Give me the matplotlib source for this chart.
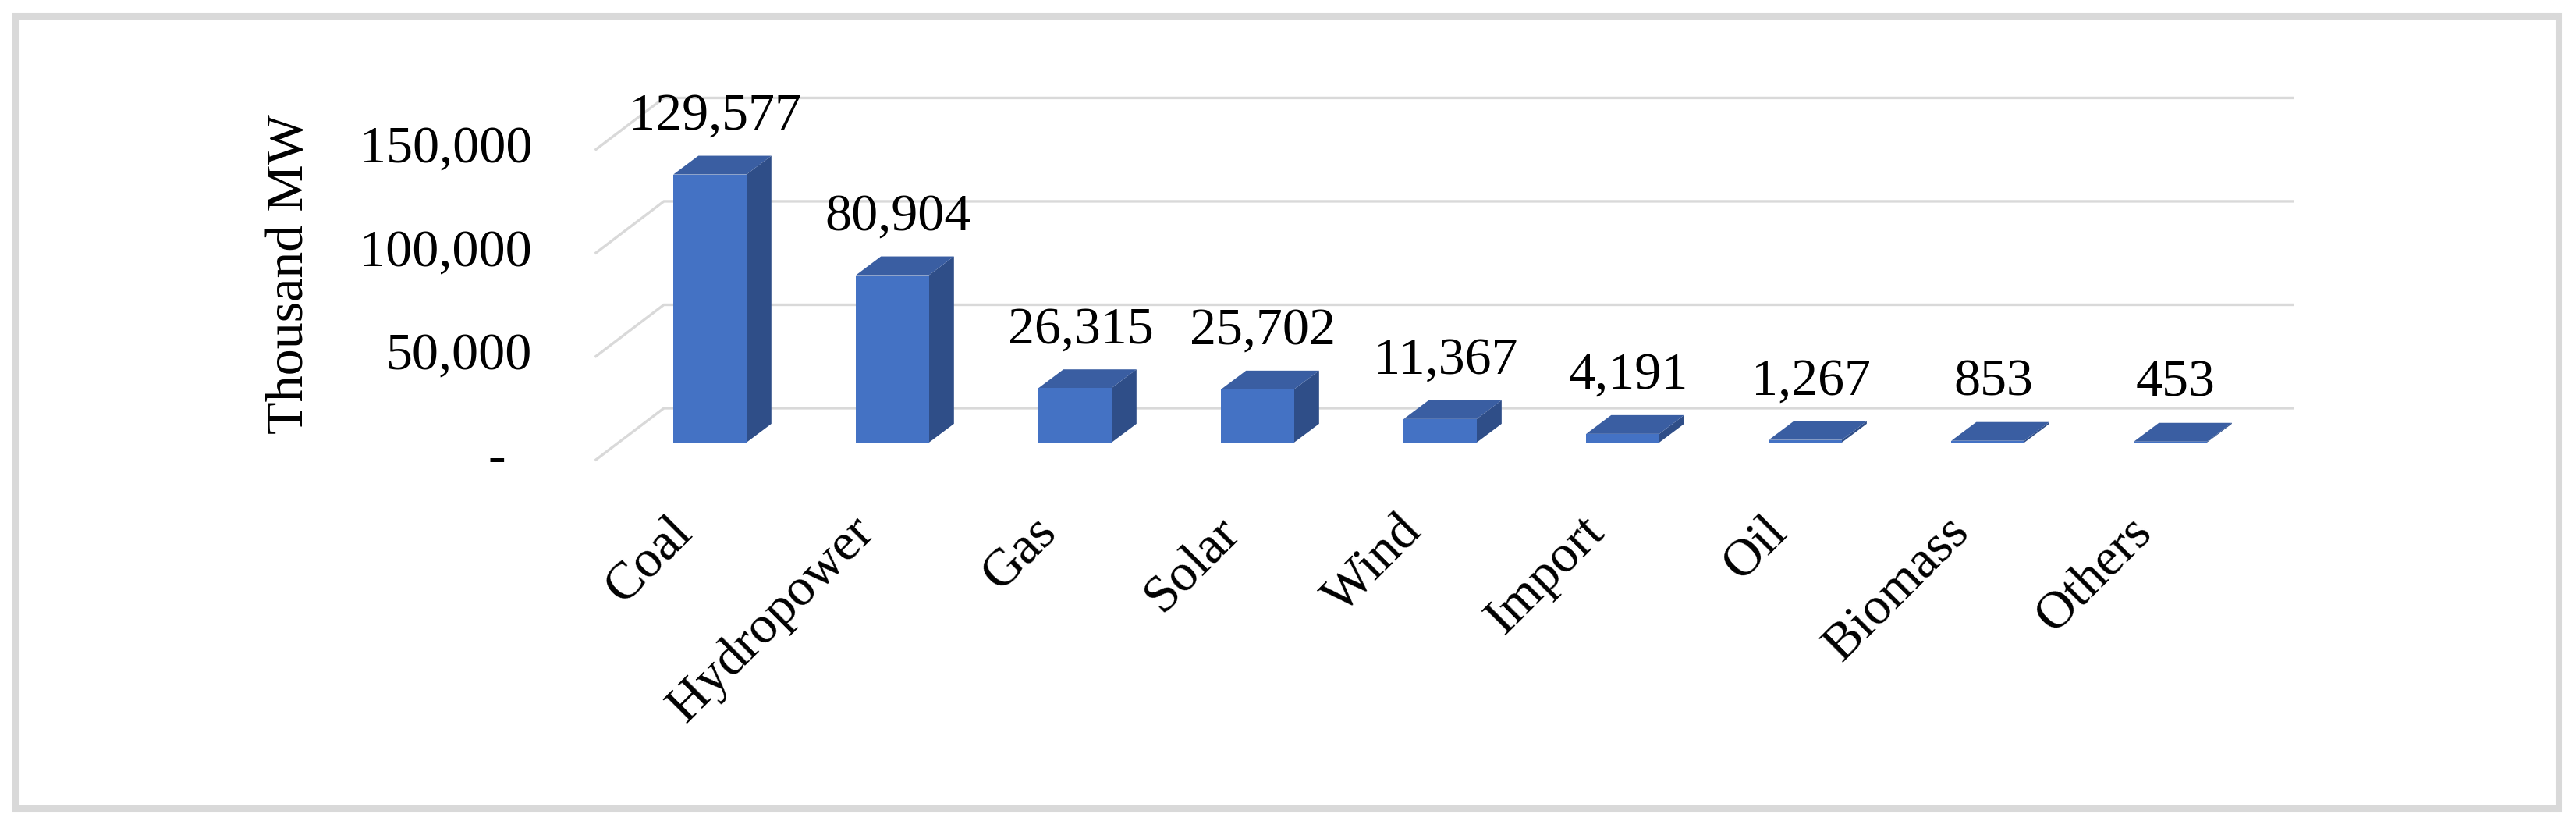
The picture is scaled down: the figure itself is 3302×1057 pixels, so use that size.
import matplotlib.pyplot as plt
from matplotlib.patches import Polygon, Rectangle

# installed capacity by source (thousand MW)
categories = ['Coal', 'Hydropower', 'Gas', 'Solar', 'Wind', 'Import', 'Oil', 'Biomass', 'Others']
capacity = [129577, 80904, 26315, 25702, 11367, 4191, 1267, 853, 453]
y_ticks = [0, 50000, 100000, 150000]
y_tick_labels = ['-', '50,000', '100,000', '150,000']

plt.rcParams['font.family'] = ['Liberation Serif', 'DejaVu Serif']
FS = 49

FRONT = '#4472C4'
TOP = '#3A5EA2'
SIDE = '#2F4E88'
GRID = '#D9D9D9'

# fake 3d: depth offsets expressed in data units (x = category, y = value)
BAR_HALF = 0.2
BAR_DX, BAR_DY = 0.137, 9060
WALL_DX, WALL_DY = 0.248, 16600
FLOOR_DX, FLOOR_DY = -0.124, -8300
WALL_LEFT, WALL_RIGHT = -0.5, 8.42

fig = plt.figure(figsize=(33.02, 10.57), dpi=100)
ax = fig.add_axes([0.2047, 0.4636, 0.7087, 0.3761])
ax.set_xlim(-1, 9)
ax.set_ylim(0, 150000)
ax.axis('off')

# chart border
fig.patches.append(Rectangle((20 / 3302, 21 / 1057), 3260 / 3302, 1015 / 1057,
                             transform=fig.transFigure, fill=False,
                             edgecolor=GRID, linewidth=5.8))

# side wall diagonals + back wall gridlines, with tick labels
for v, lab in zip(y_ticks, y_tick_labels):
    x0, y0 = WALL_LEFT + FLOOR_DX, v + FLOOR_DY
    x1, y1 = WALL_LEFT + WALL_DX, v + WALL_DY
    x2 = WALL_RIGHT + WALL_DX
    ax.plot([x0, x1, x2], [y0, y1, y1], color=GRID, lw=2.4,
            solid_joinstyle='miter', clip_on=False, zorder=1)
    if lab == '-':
        ax.text(-1.12, y0, lab, ha='right', va='center', fontsize=FS)
    else:
        ax.text(-0.974, y0, lab, ha='right', va='center', fontsize=FS)

# bars
for i, v in enumerate(capacity):
    l, r = i - BAR_HALF, i + BAR_HALF
    side = Polygon([(r, 0), (r + BAR_DX, BAR_DY), (r + BAR_DX, v + BAR_DY), (r, v)],
                   closed=True, facecolor=SIDE, edgecolor='none', clip_on=False, zorder=3)
    top = Polygon([(l, v), (r, v), (r + BAR_DX, v + BAR_DY), (l + BAR_DX, v + BAR_DY)],
                  closed=True, facecolor=TOP, edgecolor='none', clip_on=False, zorder=3)
    ax.add_patch(side)
    ax.add_patch(top)
    ax.add_patch(Rectangle((l, 0), r - l, v, facecolor=FRONT, edgecolor='none',
                           clip_on=False, zorder=4))
    ax.text(i + 0.03, v + BAR_DY + 12800, f'{v:,}', ha='center', va='baseline',
            fontsize=FS, zorder=5)
    ax.text(i - 0.05, -31500, categories[i], rotation=45, ha='right', va='top',
            fontsize=FS)

ax.text(-2.30, 81500, 'Thousand MW', rotation=90, ha='center', va='center', fontsize=FS)

fig.savefig('out.png', dpi=100)
